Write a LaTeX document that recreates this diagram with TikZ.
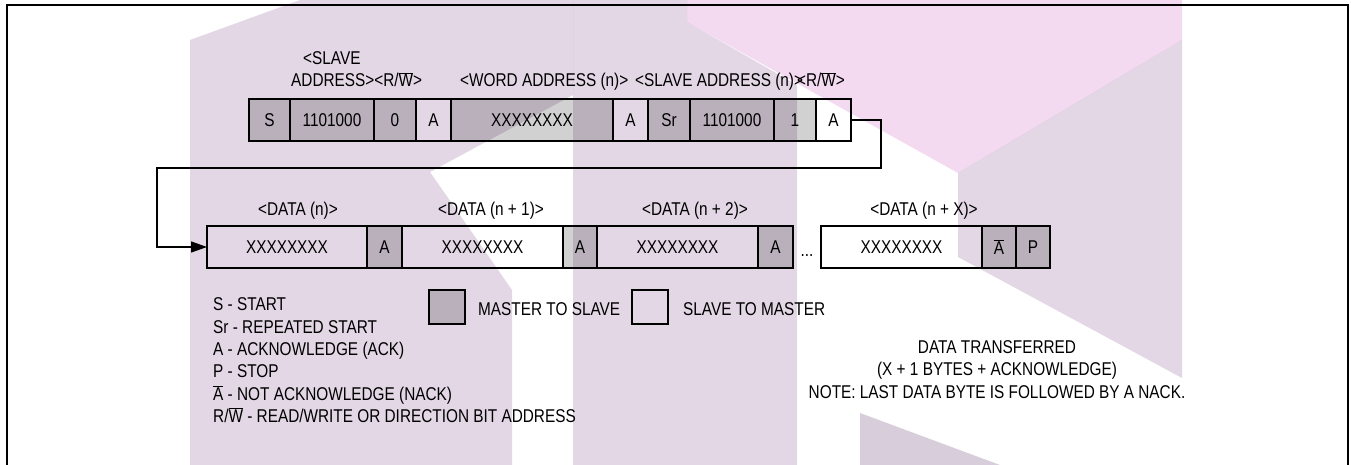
\documentclass[tikz,border=0pt]{standalone}
\usepackage{fontspec}
\setmainfont{Liberation Sans}[FakeStretch=0.83]
\usetikzlibrary{positioning,arrows.meta}
\definecolor{abu}{HTML}{D1D1D1}
\definecolor{ungu}{HTML}{E3D7E6}
\definecolor{ungutua}{HTML}{D8CDDB}
\definecolor{merahmuda}{HTML}{F3DAF1}
\newcommand{\ovl}[1]{$\overline{\mbox{#1}}$}

\begin{document}
\begin{tikzpicture}[x=1pt, y=-1pt, font=\fontsize{18.5}{22}\selectfont,
    kotak/.style={draw, line width=1.2pt, minimum height=42pt, inner sep=0pt, outer sep=0pt, anchor=west},
    mkotak/.style={kotak, fill=abu},
    skotak/.style={kotak, fill=white},
    teks/.style={inner sep=0pt, anchor=base},
    keterangan/.style={inner sep=0pt, anchor=base west}]
    \useasboundingbox (0,0) rectangle (1351,465);

    % Bingkai
    \draw[line width=2.5pt] (7,465) -- (7,5) -- (1348,5) -- (1348,465);

    % Baris atas (tulis)
    \node (s) [mkotak, minimum width=41pt] at (249,120) {S};
    \node (adr1) [mkotak, minimum width=84pt, right=0pt of s] {1101000};
    \node (rw0) [mkotak, minimum width=42pt, right=0pt of adr1] {0};
    \node (ack0) [skotak, minimum width=35pt, right=0pt of rw0] {A};
    \node (word) [mkotak, minimum width=162pt, right=0pt of ack0] {XXXXXXXX};
    \node (ack1) [skotak, minimum width=35pt, right=0pt of word] {A};
    \node (sr) [mkotak, minimum width=42pt, right=0pt of ack1] {Sr};
    \node (adr2) [mkotak, minimum width=84pt, right=0pt of sr] {1101000};
    \node (rw1) [mkotak, minimum width=42pt, right=0pt of adr2] {1};
    \node (ack2) [skotak, minimum width=35pt, right=0pt of rw1] {A};

    % Label baris atas
    \node (lslave) [teks, anchor=base west] at (303,65) {<SLAVE};
    \node (laddr) [teks, anchor=base west] at (291,87) {ADDRESS><R/\ovl{W}>};
    \node (lword) [teks, anchor=base west] at (460,87) {<WORD ADDRESS (n)>};
    \node (lslave2) [teks, anchor=base west] at (635,87) {<SLAVE ADDRESS (n)>\kern-6pt<R/\ovl{W}>};

    % Baris bawah (data)
    \node (d0) [skotak, minimum width=160pt] at (207,247) {XXXXXXXX};
    \node (a0) [mkotak, minimum width=35pt, right=0pt of d0] {A};
    \node (d1) [skotak, minimum width=161pt, right=0pt of a0] {XXXXXXXX};
    \node (a1) [mkotak, minimum width=34pt, right=0pt of d1] {A};
    \node (d2) [skotak, minimum width=161pt, right=0pt of a1] {XXXXXXXX};
    \node (a2) [mkotak, minimum width=35pt, right=0pt of d2] {A};
    \node (titik) [teks] at (807,256) {...};
    \node (dx) [skotak, minimum width=161pt] at (821,247) {XXXXXXXX};
    \node (nack) [mkotak, minimum width=34pt, right=0pt of dx] {\ovl{A}};
    \node (p) [mkotak, minimum width=34pt, right=0pt of nack] {P};

    % Label baris bawah
    \node (ld0) [teks] at (298,215) {<DATA (n)>};
    \node (ld1) [teks] at (491,215) {<DATA (n + 1)>};
    \node (ld2) [teks] at (695,215) {<DATA (n + 2)>};
    \node (ldx) [teks] at (924,215) {<DATA (n + X)>};

    % Panah penghubung
    \coordinate (kanan) at (881,168);
    \coordinate (kiri) at (157,168);
    \draw[line width=1.2pt, -{Triangle[length=16pt, width=11pt]}] (ack2.east) -| (kanan) -- (kiri) |- (d0.west);

    % Keterangan
    \node (ks) [keterangan] at (213,310) {S - START};
    \node (ksr) [keterangan] at (213,333) {Sr - REPEATED START};
    \node (ka) [keterangan] at (213,355) {A - ACKNOWLEDGE (ACK)};
    \node (kp) [keterangan] at (213,377) {P - STOP};
    \node (kna) [keterangan] at (213,400) {\ovl{A} - NOT ACKNOWLEDGE (NACK)};
    \node (krw) [keterangan] at (213,422) {R/\ovl{W} - READ/WRITE OR DIRECTION BIT ADDRESS};

    \draw[line width=1.2pt, fill=abu] (429,290) rectangle (465,324);
    \node (kms) [keterangan] at (478,315) {MASTER TO SLAVE};
    \draw[line width=1.2pt, fill=white] (632,290) rectangle (668,324);
    \node (ksm) [keterangan] at (683,315) {SLAVE TO MASTER};

    \node (cat1) [teks] at (997,353) {DATA TRANSFERRED};
    \node (cat2) [teks] at (997,375) {(X + 1 BYTES + ACKNOWLEDGE)};
    \node (cat3) [teks] at (997,398) {NOTE: LAST DATA BYTE IS FOLLOWED BY A NACK.};

    % Tanda air (latar)
    \begin{scope}[blend mode=multiply]
        \fill[ungu] (190,40) -- (300,0) -- (573,0) -- (573,95) -- (430,172) -- (512,290) -- (512,465) -- (190,465) -- cycle;
        \fill[ungu] (573,0) -- (687,0) -- (687,22) -- (797,85) -- (797,465) -- (573,465) -- cycle;
        \fill[merahmuda] (687,0) -- (1182,0) -- (1182,40) -- (958,173) -- (687,22) -- cycle;
        \fill[ungu] (958,173) -- (1182,40) -- (1182,378) -- (958,257) -- cycle;
        \fill[ungutua] (860,413) -- (1000,465) -- (860,465) -- cycle;
    \end{scope}
\end{tikzpicture}
\end{document}
